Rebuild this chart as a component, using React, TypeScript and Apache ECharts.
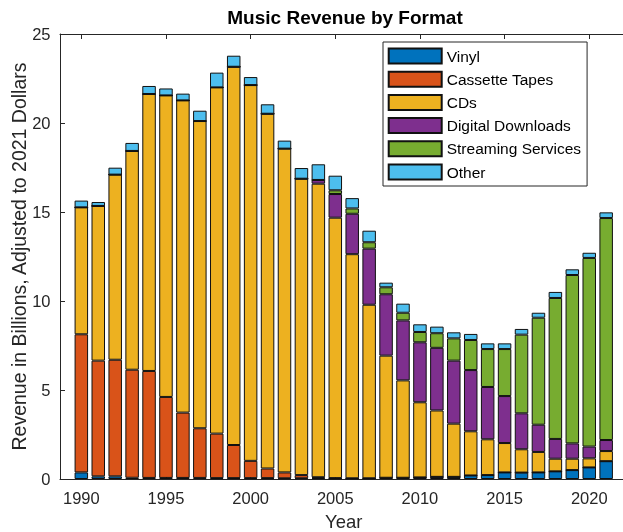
import React, { useEffect, useRef } from "react";
import * as echarts from "echarts";

const years = [
  "1990", "1991", "1992", "1993", "1994", "1995", "1996", "1997", "1998", "1999", "2000", "2001",
  "2002", "2003", "2004", "2005", "2006", "2007", "2008", "2009", "2010", "2011", "2012", "2013",
  "2014", "2015", "2016", "2017", "2018", "2019", "2020", "2021",
];

const tickYears = [1990, 1995, 2000, 2005, 2010, 2015, 2020];

const vinyl = [
  0.37, 0.15, 0.15, 0.07, 0.06, 0.06, 0.06, 0.06, 0.05, 0.05, 0.05, 0.05, 0.04, 0.04, 0.05, 0.03,
  0.03, 0.04, 0.07, 0.07, 0.09, 0.12, 0.12, 0.2, 0.22, 0.37, 0.36, 0.37, 0.43, 0.5, 0.65, 1.0,
];

const cassette = [
  7.76, 6.5, 6.55, 6.07, 6.01, 4.55, 3.67, 2.79, 2.5, 1.86, 0.97, 0.54, 0.33, 0.18, 0.05, 0.02,
  0.01, 0, 0, 0, 0, 0, 0, 0, 0, 0, 0, 0, 0, 0, 0, 0,
];

const cds = [
  7.13, 8.69, 10.4, 12.29, 15.56, 16.94, 17.54, 17.26, 19.45, 21.25, 21.11, 19.93, 18.19, 16.65,
  16.49, 14.63, 12.59, 9.75, 6.86, 5.47, 4.22, 3.73, 2.99, 2.48, 2.01, 1.65, 1.31, 1.15, 0.71, 0.64,
  0.51, 0.57,
];

const downloads = [
  0, 0, 0, 0, 0, 0, 0, 0, 0, 0, 0, 0, 0, 0, 0.21, 1.33, 2.27, 3.15, 3.45, 3.37, 3.37, 3.52, 3.54,
  3.44, 2.94, 2.64, 2.02, 1.53, 1.11, 0.86, 0.66, 0.62,
];

const streaming = [
  0, 0, 0, 0, 0, 0, 0, 0, 0, 0, 0, 0, 0, 0, 0, 0.21, 0.3, 0.36, 0.39, 0.43, 0.58, 0.82, 1.25, 1.69,
  2.13, 2.64, 4.42, 6.01, 7.92, 9.46, 10.6, 12.47,
];

const other = [
  0.38, 0.22, 0.39, 0.45, 0.45, 0.39, 0.38, 0.58, 0.83, 0.62, 0.45, 0.53, 0.45, 0.6, 0.88, 0.82,
  0.58, 0.65, 0.26, 0.51, 0.43, 0.37, 0.34, 0.34, 0.32, 0.32, 0.32, 0.28, 0.34, 0.32, 0.29, 0.32,
];

const seriesNames = [
  "Vinyl",
  "Cassette Tapes",
  "CDs",
  "Digital Downloads",
  "Streaming Services",
  "Other",
];
const seriesColors = ["#0072BD", "#D95319", "#EDB120", "#7E2F8E", "#77AC30", "#4DBEEE"];
const seriesValues = [vinyl, cassette, cds, downloads, streaming, other];

// x-limits of the axes box (MATLAB style padding around the bars)
const xMin = 1988.74;
const xMax = 2022.26;

export default function App() {
  const ref = useRef<HTMLDivElement>(null);

  useEffect(() => {
    const chart = echarts.init(ref.current as HTMLDivElement, null, { renderer: "svg" });
    const font = "'Liberation Sans', Arial, Helvetica, sans-serif";
    const axisColor = "#262626";

    const frameLeft = 60;
    const frameTop = 34;
    const frameWidth = 567.5;
    const frameHeight = 445;
    const pxPerYear = frameWidth / (xMax - xMin);
    const barsLeft = frameLeft + (Number(years[0]) - 0.5 - xMin) * pxPerYear;
    const barsWidth = years.length * pxPerYear;

    chart.setOption({
      animation: false,
      textStyle: { fontFamily: font },
      title: {
        text: "Music Revenue by Format",
        left: 340,
        top: 3,
        textAlign: "center",
        textStyle: { fontFamily: font, fontSize: 19, fontWeight: "bold", color: "#000" },
      },
      legend: {
        orient: "vertical",
        left: 383,
        top: 42,
        icon: "rect",
        itemWidth: 53,
        itemHeight: 15,
        itemGap: 6.2,
        padding: [5.5, 6, 5.5, 4.7],
        borderColor: axisColor,
        borderWidth: 1,
        backgroundColor: "#fff",
        data: seriesNames,
        textStyle: { fontFamily: font, fontSize: 15.5, color: "#000" },
      },
      grid: [
        {
          left: frameLeft,
          top: frameTop,
          width: frameWidth,
          height: frameHeight,
          containLabel: false,
          outerBoundsMode: "none",
        },
        {
          left: barsLeft,
          top: frameTop,
          width: barsWidth,
          height: frameHeight,
          containLabel: false,
          outerBoundsMode: "none",
        },
      ],
      xAxis: [
        {
          type: "value",
          gridIndex: 0,
          min: xMin,
          max: xMax,
          name: "Year",
          nameLocation: "middle",
          nameGap: 32.5,
          nameMoveOverlap: false,
          nameTextStyle: { fontFamily: font, fontSize: 18.5, color: axisColor },
          splitLine: { show: false },
          axisLine: { show: true, lineStyle: { color: axisColor, width: 1 } },
          axisTick: {
            show: true,
            inside: true,
            length: 5,
            customValues: tickYears,
            lineStyle: { color: axisColor },
          },
          axisLabel: {
            customValues: tickYears,
            formatter: (v: number) => String(v),
            fontFamily: font,
            fontSize: 16.5,
            color: axisColor,
            margin: 10.5,
          },
        },
        {
          type: "value",
          gridIndex: 0,
          position: "top",
          min: xMin,
          max: xMax,
          splitLine: { show: false },
          axisLine: { show: true, lineStyle: { color: axisColor, width: 1 } },
          axisTick: {
            show: true,
            inside: true,
            length: 5,
            customValues: tickYears,
            lineStyle: { color: axisColor },
          },
          axisLabel: { show: false },
        },
        {
          type: "category",
          gridIndex: 1,
          data: years,
          boundaryGap: true,
          show: false,
        },
      ],
      yAxis: [
        {
          type: "value",
          gridIndex: 0,
          min: 0,
          max: 25,
          interval: 5,
          name: "Revenue in Billions, Adjusted to 2021 Dollars",
          nameLocation: "middle",
          nameGap: 31,
          nameMoveOverlap: false,
          nameRotate: 90,
          nameTextStyle: { fontFamily: font, fontSize: 19.5, color: axisColor },
          splitLine: { show: false },
          axisLine: { show: true, lineStyle: { color: axisColor, width: 1 } },
          axisTick: { show: true, inside: true, length: 5, lineStyle: { color: axisColor } },
          axisLabel: { fontFamily: font, fontSize: 16.5, color: axisColor, margin: 9.5 },
        },
        {
          type: "value",
          gridIndex: 1,
          min: 0,
          max: 25,
          show: false,
          splitLine: { show: false },
        },
      ],
      series: seriesNames.map((name, k) => ({
        name,
        type: "bar",
        stack: "total",
        xAxisIndex: 2,
        yAxisIndex: 1,
        barWidth: 13.5,
        itemStyle: { color: seriesColors[k], borderColor: "#111", borderWidth: 1 },
        data: seriesValues[k],
      })),
    });

    return () => chart.dispose();
  }, []);

  return (
    <div
      ref={ref}
      style={{ position: "fixed", left: 0, top: 0, width: 623, height: 532 }}
    />
  );
}
